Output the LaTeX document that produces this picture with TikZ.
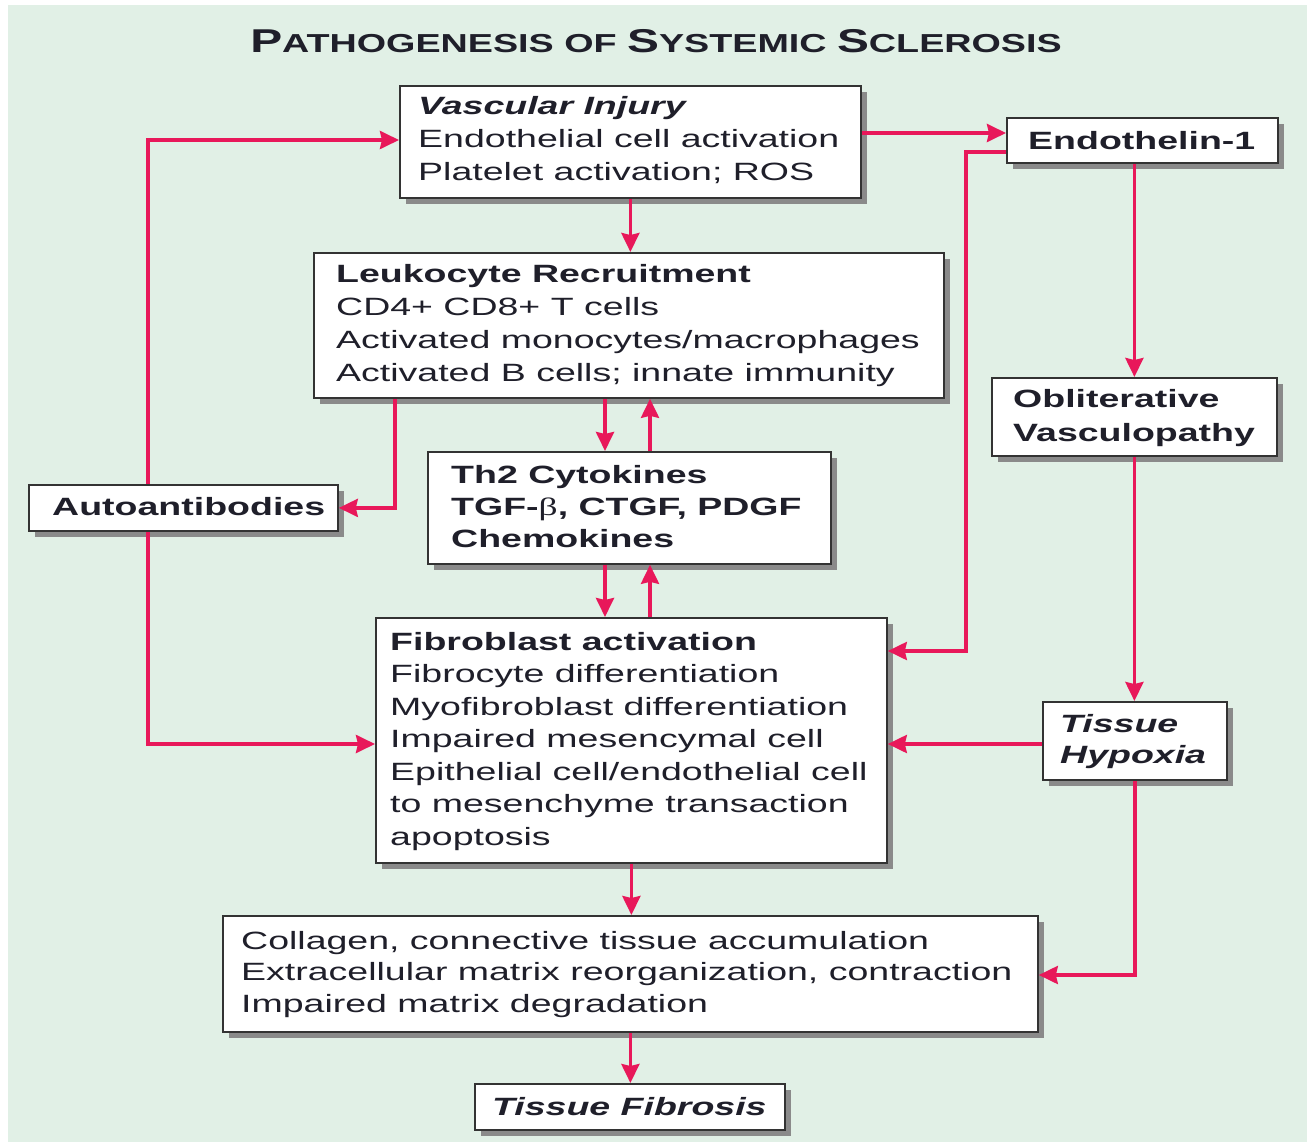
\documentclass[tikz,border=0pt]{standalone}
\usepackage{fontspec}
\setmainfont{Liberation Sans}[FakeStretch=1.5]
\newfontfamily\titlefont{Liberation Sans}[FakeStretch=1.45]
\newfontfamily\betafont{Liberation Serif}[FakeStretch=1.5]
\usetikzlibrary{arrows.meta,shadows}
\definecolor{bg}{HTML}{E1F0E6}
\definecolor{arrowred}{HTML}{E8185A}
\definecolor{ink}{HTML}{1F1F2A}
\definecolor{shadowgray}{HTML}{8A8A8A}
\definecolor{boxline}{HTML}{333333}
\newcommand\tcap[1]{{\fontsize{33}{33}\selectfont #1}}
\tikzset{
 box/.style={draw=boxline, line width=1.8pt, fill=white, inner sep=0pt, anchor=north west,
   drop shadow={shadow xshift=6pt, shadow yshift=-6pt, fill=shadowgray, opacity=1}},
 txt/.style={anchor=base west, align=left, inner sep=0pt, text=ink},
 arr/.style={draw=arrowred, line width=3.5pt, -{Stealth[length=19pt,width=18pt,inset=2pt]}},
}
\begin{document}
\begin{tikzpicture}[x=1pt,y=-1pt]
\useasboundingbox (0,0) rectangle (1307,1142);
\fill[white] (0,0) rectangle (1307,1142);
\fill[bg] (8,5) rectangle (1307,1142);

\node[anchor=base, text=ink, inner sep=0pt, font=\titlefont\bfseries\fontsize{26}{26}\selectfont] (title) at (656,53)
  {\tcap{P}ATHOGENESIS OF \tcap{S}YSTEMIC \tcap{S}CLEROSIS};

% boxes
\node[box, minimum width=461pt, minimum height=112pt] (vasc)  at (399,85) {};
\node[box, minimum width=271pt, minimum height=45pt]  (endo)  at (1006,117) {};
\node[box, minimum width=630pt, minimum height=145pt] (leuk)  at (313,252) {};
\node[box, minimum width=309pt, minimum height=46pt]  (auto)  at (28,484) {};
\node[box, minimum width=403pt, minimum height=112pt] (th2)   at (427,451) {};
\node[box, minimum width=285pt, minimum height=78pt]  (obl)   at (991,377) {};
\node[box, minimum width=511pt, minimum height=245pt] (fibro) at (375,617) {};
\node[box, minimum width=184pt, minimum height=78pt]  (hyp)   at (1042,701) {};
\node[box, minimum width=815pt, minimum height=116pt] (coll)  at (222,915) {};
\node[box, minimum width=310pt, minimum height=46pt]  (fib2)  at (474,1083) {};

% texts (anchor = baseline of the last line)
\node[txt, font=\fontsize{25}{33}\selectfont] (vascT) at (418,181)
  {\textbf{\textit{Vascular Injury}}\\Endothelial cell activation\\Platelet activation; ROS};
\node[txt, font=\bfseries\fontsize{25}{33}\selectfont] (endoT) at (1028,150) {Endothelin-1};
\node[txt, font=\fontsize{25}{33}\selectfont] (leukT) at (336,381)
  {\textbf{Leukocyte Recruitment}\\CD4+ CD8+ T cells\\Activated monocytes/macrophages\\Activated B cells; innate immunity};
\node[txt, font=\bfseries\fontsize{25}{33}\selectfont] (autoT) at (52,515) {Autoantibodies};
\node[txt, font=\bfseries\fontsize{25}{32}\selectfont] (th2T) at (451,547)
  {Th2 Cytokines\\TGF-{\betafont\mdseries β}, CTGF, PDGF\\Chemokines};
\node[txt, font=\bfseries\fontsize{25}{34}\selectfont] (oblT) at (1013,441) {Obliterative\\Vasculopathy};
\node[txt, font=\fontsize{25}{32.5}\selectfont] (fibroT) at (390,845)
  {\textbf{Fibroblast activation}\\Fibrocyte differentiation\\Myofibroblast differentiation\\Impaired mesencymal cell\\Epithelial cell/endothelial cell\\to mesenchyme transaction\\apoptosis};
\node[txt, font=\bfseries\itshape\fontsize{25}{31}\selectfont] (hypT) at (1060,763) {Tissue\\Hypoxia};
\node[txt, font=\fontsize{25}{31.5}\selectfont] (collT) at (241,1012)
  {Collagen, connective tissue accumulation\\Extracellular matrix reorganization, contraction\\Impaired matrix degradation};
\node[txt, font=\bfseries\itshape\fontsize{25}{33}\selectfont] (fib2T) at (492,1115) {Tissue Fibrosis};

% connectors
\draw[arr] (vasc.south) -- (vasc.south |- leuk.north);
\draw[arr] (vasc.east |- 0,133) -- (endo.west |- 0,133);
\draw[arr] (endo.west |- 0,152) -- (966,152) -- (966,651) -- (fibro.east |- 0,651);
\draw[arr] (obl.north |- endo.south) -- (obl.north);
\draw[arr] (obl.south) -- (obl.south |- hyp.north);
\draw[arr] (hyp.west |- 0,744) -- (fibro.east |- 0,744);
\draw[arr] (hyp.south) |- (coll.east |- 0,975);
\draw[arr] (leuk.south -| 605,0) -- (th2.north -| 605,0);
\draw[arr] (th2.north -| 650,0) -- (leuk.south -| 650,0);
\draw[arr] (th2.south -| 605,0) -- (fibro.north -| 605,0);
\draw[arr] (fibro.north -| 650,0) -- (th2.south -| 650,0);
\draw[arr] (leuk.south -| 395,0) |- (auto.east);
\draw[arr] (auto.north -| 148,0) |- (vasc.west |- 0,140);
\draw[arr] (auto.south -| 148,0) |- (fibro.west |- 0,744);
\draw[arr] (fibro.south) -- (fibro.south |- coll.north);
\draw[arr] (coll.south) -- (coll.south |- fib2.north);
\end{tikzpicture}
\end{document}
